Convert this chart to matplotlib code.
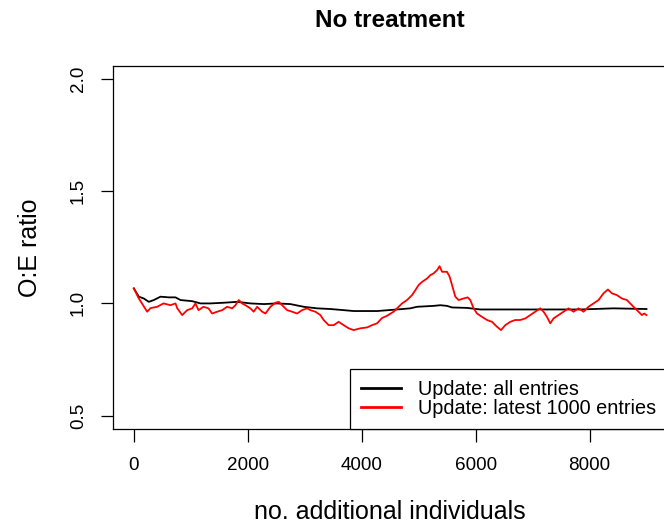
import matplotlib
matplotlib.use("Agg")
import matplotlib.pyplot as plt
import numpy as np

plt.rcParams['font.family'] = ['Liberation Sans', 'DejaVu Sans']

# values (no. additional individuals -> O:E ratio)
all_x = [0, 88, 175, 263, 351, 468, 614, 732, 819, 1025, 1170, 1346, 1579,
         1814, 2047, 2281, 2516, 2749, 2982, 3218, 3451, 3684, 3860, 4270,
         4621, 4854, 4972, 5263, 5381, 5498, 5586, 5849, 6082, 6667, 7253,
         7837, 8421, 9000]
all_oe = [1.067, 1.030, 1.022, 1.007, 1.015, 1.030, 1.027, 1.027, 1.015, 1.010,
          1.000, 1.000, 1.003, 1.007, 1.000, 0.997, 1.000, 0.997, 0.985, 0.978,
          0.975, 0.970, 0.966, 0.966, 0.973, 0.978, 0.985, 0.989, 0.992, 0.989,
          0.982, 0.980, 0.973, 0.973, 0.973, 0.973, 0.978, 0.975]

latest_x = [0, 88, 235, 293, 411, 521, 644, 732, 761, 849, 937, 1025, 1082,
            1135, 1223, 1311, 1375, 1463, 1551, 1639, 1726, 1784, 1842, 1902,
            1960, 2047, 2105, 2165, 2253, 2311, 2398, 2486, 2544, 2632, 2691,
            2779, 2867, 2954, 3042, 3100, 3188, 3275, 3333, 3421, 3509, 3596,
            3684, 3772, 3860, 3977, 4095, 4182, 4270, 4358, 4446, 4561, 4621,
            4709, 4796, 4884, 4942, 5000, 5060, 5147, 5205, 5263, 5323, 5368,
            5411, 5498, 5544, 5586, 5644, 5702, 5789, 5860, 5907, 5965, 6025,
            6112, 6200, 6288, 6375, 6446, 6521, 6609, 6696, 6784, 6872, 6960,
            7047, 7135, 7193, 7253, 7311, 7368, 7456, 7544, 7632, 7719, 7807,
            7895, 7982, 8070, 8158, 8246, 8323, 8393, 8481, 8568, 8656, 8714,
            8772, 8832, 8919, 8960, 9000]
latest_oe = [1.067, 1.022, 0.963, 0.979, 0.985, 1.000, 0.992, 1.000, 0.979, 0.948,
             0.970, 0.978, 1.000, 0.970, 0.985, 0.978, 0.955, 0.963, 0.970, 0.985,
             0.978, 0.992, 1.015, 1.000, 0.992, 0.978, 0.963, 0.985, 0.963, 0.955,
             0.985, 1.003, 1.007, 0.985, 0.970, 0.963, 0.955, 0.970, 0.978, 0.970,
             0.963, 0.948, 0.926, 0.903, 0.903, 0.918, 0.903, 0.889, 0.881, 0.889,
             0.893, 0.903, 0.911, 0.935, 0.945, 0.963, 0.978, 1.000, 1.015, 1.037,
             1.059, 1.082, 1.096, 1.111, 1.126, 1.134, 1.148, 1.166, 1.141, 1.141,
             1.119, 1.082, 1.030, 1.015, 1.022, 1.027, 1.015, 0.978, 0.955, 0.940,
             0.926, 0.918, 0.896, 0.881, 0.903, 0.918, 0.926, 0.926, 0.933, 0.948,
             0.963, 0.978, 0.963, 0.940, 0.911, 0.933, 0.948, 0.963, 0.978, 0.963,
             0.978, 0.963, 0.985, 1.000, 1.015, 1.045, 1.062, 1.045, 1.037, 1.022,
             1.015, 1.000, 0.985, 0.970, 0.948, 0.955, 0.948]

x_ticks = [0, 2000, 4000, 6000, 8000]
y_ticks = [0.5, 1.0, 1.5, 2.0]

fig = plt.figure(figsize=(6.64, 5.26), dpi=100)
W, H = 664, 526
# plot box in pixels: left 113, right 667 (just past the crop), top 66, bottom 429
ax = fig.add_axes([113.3 / W, (H - 429) / H, (667 - 113.3) / W, (429 - 65.7) / H])

ax.plot(all_x, all_oe, color='black', lw=1.3, label='Update: all entries')
ax.plot(latest_x, latest_oe, color='red', lw=1.3, label='Update: latest 1000 entries')

xmax = 9000
ax.set_xlim(-0.04 * xmax, 1.04 * xmax)
ax.set_ylim(0.44, 2.06)
ax.set_xticks(x_ticks)
ax.set_yticks(y_ticks)
ax.set_xticklabels([str(t) for t in x_ticks])
ax.set_yticklabels([f"{t:.1f}" for t in y_ticks])

for s in ax.spines.values():
    s.set_linewidth(0.9)
ax.tick_params(axis='both', direction='out', length=9, width=0.9, labelsize=13.6)
ax.tick_params(axis='x', pad=11)
ax.tick_params(axis='y', pad=10, labelrotation=90)
for lab in ax.get_yticklabels():
    lab.set_va('center')

ax.set_xlabel('no. additional individuals', fontsize=18, labelpad=19)
ax.set_ylabel('O:E ratio', fontsize=18, labelpad=20)
ax.set_title('No treatment', fontsize=17.5, fontweight='bold', pad=28)

leg = ax.legend(loc='lower right', borderaxespad=0, fancybox=False, fontsize=14.3,
                frameon=True, framealpha=1, edgecolor='black', handlelength=2.0,
                handletextpad=0.85, labelspacing=0.0, borderpad=0.55)
leg.get_frame().set_linewidth(0.9)
for line in leg.get_lines():
    line.set_linewidth(2.0)

fig.savefig('out.png', dpi=100)
